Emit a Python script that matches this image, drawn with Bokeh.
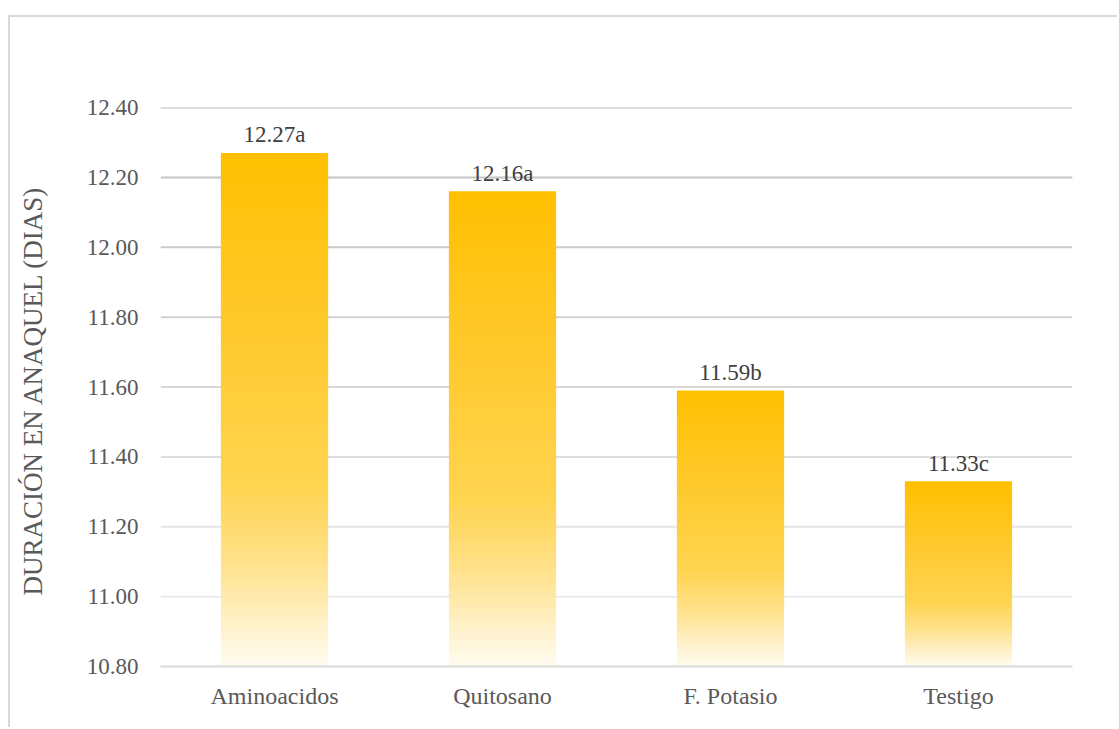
from bokeh.plotting import figure
from bokeh.models import FactorRange, Range1d, Span, FixedTicker, ColumnDataSource, CustomJSTickFormatter
from bokeh.core.properties import value
from bokeh.embed import file_html
from bokeh.resources import INLINE

categories = ["Aminoacidos", "Quitosano", "F. Potasio", "Testigo"]
values = [12.27, 12.16, 11.59, 11.33]
letters = ["a", "a", "b", "c"]
y_ticks = [10.8, 11.0, 11.2, 11.4, 11.6, 11.8, 12.0, 12.2, 12.4]
y_min, y_max = 10.8, 12.4

FONT = "Liberation Serif"
TXT = "#595959"

p = figure(x_range=FactorRange(*categories), y_range=Range1d(y_min, y_max),
           width=1109, height=712, output_backend="svg", toolbar_location=None,
           min_border_left=150, min_border_right=47, min_border_top=90, min_border_bottom=63,
           styles={"margin-left": "8px", "margin-top": "15px",
                   "border-left": "2px solid #d9d9d9", "border-top": "2px solid #d9d9d9"})
p.outline_line_color = None
p.background_fill_color = "white"
p.border_fill_color = "white"

# gridlines that fade from grey (top) to very light (bottom)
p.ygrid.grid_line_color = None
p.xgrid.grid_line_color = None
for t in y_ticks[1:]:
    f = (t - y_min) / (y_max - y_min)
    g = int(242 - (242 - 190) * f)
    p.add_layout(Span(location=t, dimension="width", line_color=(g, g, g), line_width=2, level="underlay"))

# gradient bars drawn as thin stacked slices of each bar
stops = [(0.0, (255, 192, 0)), (0.3, (255, 200, 40)), (0.65, (255, 212, 80)),
         (0.8, (255, 226, 140)), (0.92, (255, 241, 202)), (1.0, (255, 251, 240))]

def grad(t):
    for (t0, c0), (t1, c1) in zip(stops[:-1], stops[1:]):
        if t <= t1:
            u = (t - t0) / (t1 - t0)
            return "#%02x%02x%02x" % tuple(int(round(a + (b - a) * u)) for a, b in zip(c0, c1))
    return "#%02x%02x%02x" % stops[-1][1]

N = 90
xs, tops, bottoms, cols = [], [], [], []
for cat, v in zip(categories, values):
    h = v - y_min
    for k in range(N):
        b = y_min + h * k / N
        tp = y_min + h * (k + 1) / N
        tfrac = 1 - (k + 0.5) / N
        xs.append(cat)
        bottoms.append(b)
        tops.append(min(v, tp + h / N * 0.6))
        cols.append(grad(tfrac))
src = ColumnDataSource(dict(x=xs, top=tops, bottom=bottoms, color=cols))
p.vbar(x="x", top="top", bottom="bottom", width=0.47, fill_color="color", line_color=None, source=src)

# data labels
labels = [f"{v:.2f}{l}" for v, l in zip(values, letters)]
p.text(x=categories, y=values, text=labels, text_align="center", text_baseline="alphabetic",
       y_offset=-18, text_font=value(FONT), text_font_size="23px", text_color="#404040")

# axes
p.yaxis.ticker = FixedTicker(ticks=y_ticks)
p.yaxis.formatter = CustomJSTickFormatter(code="return tick.toFixed(2);")
p.yaxis.axis_line_color = None
p.yaxis.major_tick_line_color = None
p.yaxis.minor_tick_line_color = None
p.yaxis.major_tick_out = 0
p.yaxis.major_label_standoff = 22
p.yaxis.major_label_text_font = FONT
p.yaxis.major_label_text_font_size = "23px"
p.yaxis.major_label_text_color = TXT
p.yaxis.axis_label = "DURACIÓN EN ANAQUEL  (DIAS)"
p.yaxis.axis_label_text_font = FONT
p.yaxis.axis_label_text_font_size = "27px"
p.yaxis.axis_label_text_font_style = "normal"
p.yaxis.axis_label_text_color = TXT
p.yaxis.axis_label_standoff = 36

p.xaxis.axis_line_color = "#d9d9d9"
p.xaxis.axis_line_width = 2
p.xaxis.major_tick_line_color = None
p.xaxis.minor_tick_line_color = None
p.xaxis.major_tick_out = 0
p.xaxis.major_label_standoff = 16
p.xaxis.major_label_text_font = FONT
p.xaxis.major_label_text_font_size = "24px"
p.xaxis.major_label_text_color = TXT
p.x_range.range_padding = 0
p.x_range.group_padding = 0

open("out.html", "w").write(file_html(p, INLINE))
